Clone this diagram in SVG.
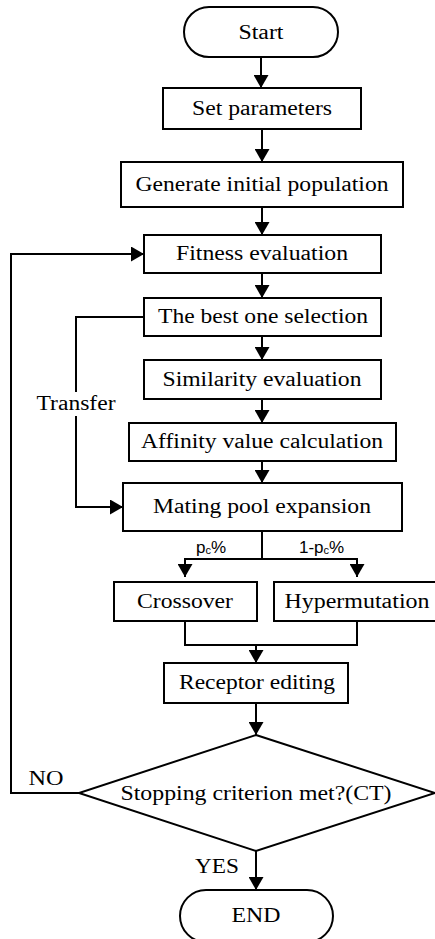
<svg xmlns="http://www.w3.org/2000/svg" width="435" height="939" viewBox="0 0 435 939">
<style>
.box{fill:#fff;stroke:#000;stroke-width:2}
.t{font-size:20px;fill:#000;text-anchor:middle}
.s{font-size:17px;fill:#000}
.c{fill:none;stroke:#000;stroke-width:2}
</style>
<defs>
<marker id="ah" markerUnits="userSpaceOnUse" markerWidth="13" markerHeight="15" refX="13" refY="7.5" orient="auto" viewBox="0 0 13 15">
<path d="M0,0 L13,7.5 L0,15 z" fill="#000"/>
</marker>
</defs>
<rect width="435" height="939" fill="#fff"/>
<g font-family="Liberation Serif, Times New Roman, DejaVu Serif, serif">
<g id="connectors">
<line class="c" x1="261" y1="57" x2="261" y2="88" marker-end="url(#ah)"/>
<line class="c" x1="262" y1="129" x2="262" y2="162" marker-end="url(#ah)"/>
<line class="c" x1="262" y1="207" x2="262" y2="235" marker-end="url(#ah)"/>
<line class="c" x1="262" y1="273" x2="262" y2="298" marker-end="url(#ah)"/>
<line class="c" x1="262" y1="336" x2="262" y2="360" marker-end="url(#ah)"/>
<line class="c" x1="262" y1="399" x2="262" y2="423" marker-end="url(#ah)"/>
<line class="c" x1="262" y1="461" x2="262" y2="483" marker-end="url(#ah)"/>
<polyline class="c" points="262,527 262,559"/>
<polyline class="c" points="262,559 185,559 185,577" marker-end="url(#ah)"/>
<polyline class="c" points="262,559 357,559 357,577" marker-end="url(#ah)"/>
<polyline class="c" points="185,621 185,645 357,645 357,621"/>
<line class="c" x1="256" y1="645" x2="256" y2="663" marker-end="url(#ah)"/>
<line class="c" x1="256" y1="703" x2="256" y2="735" marker-end="url(#ah)"/>
<line class="c" x1="256" y1="851" x2="256" y2="890" marker-end="url(#ah)"/>
<polyline class="c" points="79,793 11,793 11,254 144,254" marker-end="url(#ah)"/>
<polyline class="c" points="144,317 76,317 76,392"/>
<polyline class="c" points="76,416 76,507 123,507" marker-end="url(#ah)"/>
<text class="t" x="76" y="410" textLength="79" lengthAdjust="spacingAndGlyphs">Transfer</text>
<text class="s" font-family="Liberation Sans, Arial, DejaVu Sans, sans-serif" x="196" y="553">p<tspan font-size="11" dy="1">c</tspan><tspan dy="-1">%</tspan></text>
<text class="s" font-family="Liberation Sans, Arial, DejaVu Sans, sans-serif" x="299" y="553">1-p<tspan font-size="11" dy="1">c</tspan><tspan dy="-1">%</tspan></text>
<text class="t" x="46" y="785" textLength="35" lengthAdjust="spacingAndGlyphs">NO</text>
<text class="t" x="217" y="873" textLength="44" lengthAdjust="spacingAndGlyphs">YES</text>
</g>
<g id="start">
<rect class="box" x="184" y="7" width="154" height="50" rx="25" ry="25"/>
<text class="t" x="261" y="39" textLength="45" lengthAdjust="spacingAndGlyphs">Start</text>
</g>
<g id="set-parameters">
<rect class="box" x="163" y="88" width="198" height="41"/>
<text class="t" x="262" y="115" textLength="140" lengthAdjust="spacingAndGlyphs">Set parameters</text>
</g>
<g id="generate">
<rect class="box" x="121" y="162" width="282" height="45"/>
<text class="t" x="262" y="191" textLength="253" lengthAdjust="spacingAndGlyphs">Generate initial population</text>
</g>
<g id="fitness">
<rect class="box" x="144" y="235" width="237" height="38"/>
<text class="t" x="262" y="260" textLength="172" lengthAdjust="spacingAndGlyphs">Fitness evaluation</text>
</g>
<g id="best-one">
<rect class="box" x="144" y="298" width="237" height="38"/>
<text class="t" x="263" y="323" textLength="210" lengthAdjust="spacingAndGlyphs">The best one selection</text>
</g>
<g id="similarity">
<rect class="box" x="144" y="360" width="237" height="39"/>
<text class="t" x="262" y="386" textLength="199" lengthAdjust="spacingAndGlyphs">Similarity evaluation</text>
</g>
<g id="affinity">
<rect class="box" x="129" y="423" width="267" height="38"/>
<text class="t" x="262" y="448" textLength="242" lengthAdjust="spacingAndGlyphs">Affinity value calculation</text>
</g>
<g id="mating-pool">
<rect class="box" x="123" y="483" width="279" height="48"/>
<text class="t" x="262" y="513" textLength="218" lengthAdjust="spacingAndGlyphs">Mating pool expansion</text>
</g>
<g id="crossover">
<rect class="box" x="114" y="582" width="143" height="39"/>
<text class="t" x="185" y="608" textLength="96" lengthAdjust="spacingAndGlyphs">Crossover</text>
</g>
<g id="hypermutation">
<rect class="box" x="274" y="582" width="166" height="39"/>
<text class="t" x="357" y="608" textLength="145" lengthAdjust="spacingAndGlyphs">Hypermutation</text>
</g>
<g id="receptor">
<rect class="box" x="164" y="663" width="184" height="40"/>
<text class="t" x="257" y="689" textLength="156" lengthAdjust="spacingAndGlyphs">Receptor editing</text>
</g>
<g id="decision">
<polygon class="box" points="256,735 435,793 256,851 79,793"/>
<text class="t" x="256" y="800" textLength="271" lengthAdjust="spacingAndGlyphs">Stopping criterion met?(CT)</text>
</g>
<g id="end">
<rect class="box" x="180" y="890" width="153" height="52" rx="26" ry="26"/>
<text class="t" x="256" y="922" textLength="49" lengthAdjust="spacingAndGlyphs">END</text>
</g>
</g>
</svg>
